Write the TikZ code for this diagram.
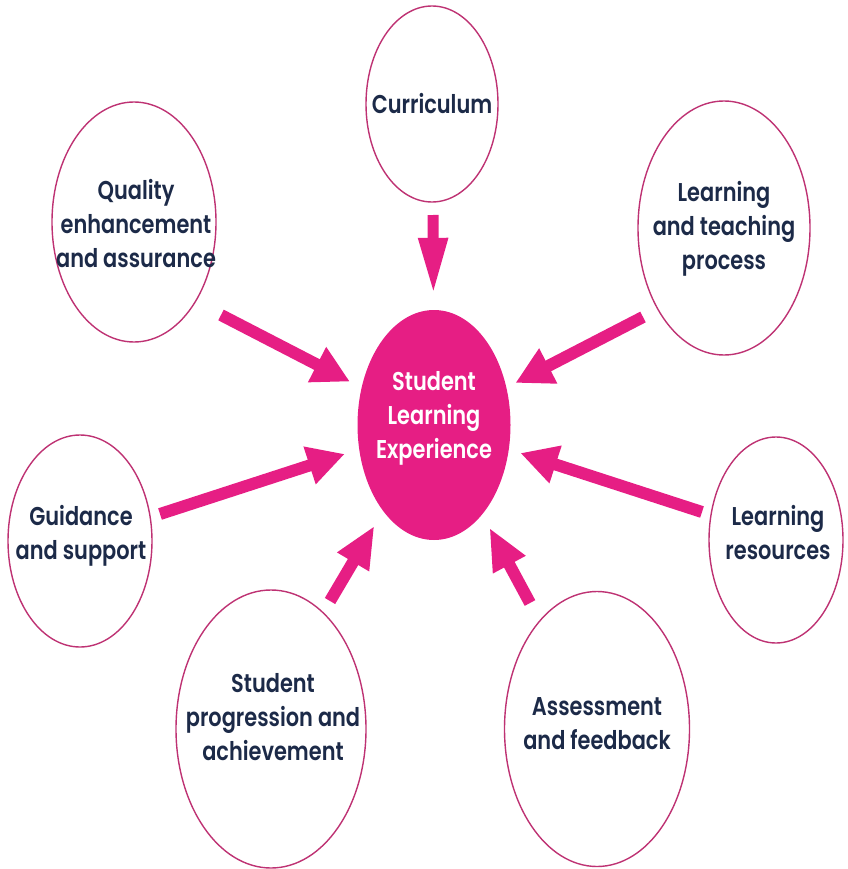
\documentclass[tikz,border=0pt]{standalone}
\usepackage{fontspec}
\setmainfont{Poppins}[BoldFont={Poppins SemiBold}]
\usepackage{graphicx}
\usepackage{tikz}
\usetikzlibrary{arrows.meta,shapes.geometric}
\definecolor{slmagenta}{RGB}{230,30,132}
\definecolor{slrim}{RGB}{190,50,115}
\definecolor{slnavy}{RGB}{28,42,72}
% tall, slightly narrow lettering for the labels
\newcommand{\tallstack}[1]{\scalebox{0.95}[1.17]{\begin{tabular}{@{}c@{}}#1\end{tabular}}}

\begin{document}
\begin{tikzpicture}[x=1pt,y=-1pt,
  topic/.style={ellipse,draw=slrim,line width=1.4pt,inner sep=0pt},
  hub/.style={ellipse,fill=slmagenta,inner sep=0pt},
  tag/.style={align=center,inner sep=0pt,text=slnavy,
    font=\fontsize{22}{29}\selectfont\bfseries},
  hubtag/.style={tag,text=white},
  flow/.style={-{Triangle[length=37pt,width=37pt]},line width=12pt,slmagenta,shorten >=13pt}
]
  \useasboundingbox (0,0) rectangle (847,869);

  % Central hub
  \node[hub,minimum width=153pt,minimum height=230pt] (core) at (434,425) {};
  \node[hubtag] (core-t) at (434,418) {\tallstack{Student\\Learning\\Experience}};

  % Surrounding topics
  \node[topic,minimum width=132pt,minimum height=196pt] (curr) at (432,104) {};
  \node[tag] (curr-t) at (432,107) {\tallstack{Curriculum}};

  \node[topic,minimum width=164pt,minimum height=240pt] (qual) at (134,222) {};
  \node[tag] (qual-t) at (136,227) {\tallstack{Quality\\enhancement\\and assurance}};

  \node[topic,minimum width=172pt,minimum height=254pt] (lt) at (724,228) {};
  \node[tag] (lt-t) at (724,229) {\tallstack{Learning\\and teaching\\process}};

  \node[topic,minimum width=144pt,minimum height=212pt] (guid) at (80,541) {};
  \node[tag] (guid-t) at (81,536) {\tallstack{Guidance\\and support}};

  \node[topic,minimum width=134pt,minimum height=206pt] (lres) at (776,540) {};
  \node[tag] (lres-t) at (778,536) {\tallstack{Learning\\resources}};

  \node[topic,minimum width=190pt,minimum height=278pt] (prog) at (271,729) {};
  \node[tag] (prog-t) at (273,720) {\tallstack{Student\\progression and\\achievement}};

  \node[topic,minimum width=185pt,minimum height=275pt] (asse) at (597,729) {};
  \node[tag] (asse-t) at (597,726) {\tallstack{Assessment\\and feedback}};

  % Arrow tails
  \coordinate (curr-end) at (433,215);
  \coordinate (qual-end) at (221,315);
  \coordinate (lt-end) at (643,317);
  \coordinate (guid-end) at (160,514);
  \coordinate (lres-end) at (702,512);
  \coordinate (prog-end) at (330,601);
  \coordinate (asse-end) at (530,603);

  % Arrows into the hub
  \draw[flow,-{Triangle[length=57pt,width=27pt]},line width=11pt,shorten >=15pt] (curr-end) -- (core);
  \draw[flow] (qual-end) -- (core);
  \draw[flow,shorten >=10pt] (lt-end) -- (core);
  \draw[flow,shorten >=15pt] (guid-end) -- (core);
  \draw[flow,shorten >=12pt] (lres-end) -- (core);
  \draw[flow,-{Triangle[length=42pt,width=34pt]},shorten >=17pt] (prog-end) -- (core);
  \draw[flow,-{Triangle[length=42pt,width=34pt]},shorten >=15pt] (asse-end) -- (core);
\end{tikzpicture}
\end{document}
